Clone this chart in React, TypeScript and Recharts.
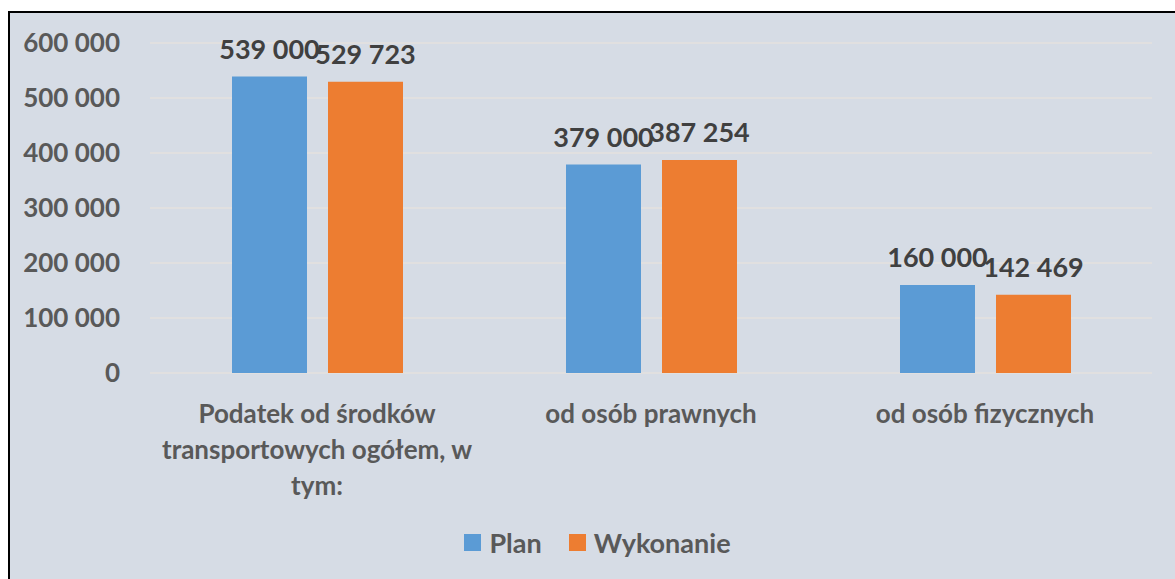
import { BarChart, Bar, XAxis, YAxis, CartesianGrid, Legend, LabelList } from 'recharts';

const categories = [
  'Podatek od środków transportowych ogółem, w tym:',
  'od osób prawnych',
  'od osób fizycznych',
];
const plan = [539000, 379000, 160000];
const wykonanie = [529723, 387254, 142469];
const yTicks = [0, 100000, 200000, 300000, 400000, 500000, 600000];

const seriesNames = ['Plan', 'Wykonanie'];
const colors = ['#5B9BD5', '#ED7D31'];

const data = categories.map((name, i) => ({ name, plan: plan[i], wykonanie: wykonanie[i] }));

const FONT = 'Lato, sans-serif';
const fmt = (v: number) => String(v).replace(/\B(?=(\d{3})+(?!\d))/g, ' ');

// simple word wrap using canvas measurement
function wrap(text: string, maxWidth: number, font: string) {
  const ctx = document.createElement('canvas').getContext('2d');
  if (!ctx) return [text];
  ctx.font = font;
  const lines: string[] = [];
  let cur = '';
  for (const w of text.split(' ')) {
    const test = cur ? cur + ' ' + w : w;
    if (cur && ctx.measureText(test).width > maxWidth) {
      lines.push(cur);
      cur = w;
    } else {
      cur = test;
    }
  }
  if (cur) lines.push(cur);
  return lines;
}

function CategoryTick(props: any) {
  const { x, y, payload } = props;
  const lines = wrap(payload.value, 330, '700 26px Lato');
  return (
    <text x={x} y={y + 48} textAnchor="middle" fill="#595959" style={{ fontFamily: FONT, fontSize: 26, fontWeight: 700 }}>
      {lines.map((l, i) => (
        <tspan key={i} x={x} dy={i === 0 ? 0 : 36}>
          {l}
        </tspan>
      ))}
    </text>
  );
}

function LegendContent() {
  return (
    <div style={{ display: 'flex', justifyContent: 'center', alignItems: 'center', fontFamily: FONT, fontSize: 27, fontWeight: 700, color: '#595959' }}>
      {seriesNames.map((n, i) => (
        <div key={n} style={{ display: 'flex', alignItems: 'center', marginRight: i === 0 ? 27 : 0 }}>
          <span style={{ width: 17, height: 17, background: colors[i], display: 'inline-block', marginRight: 8 }} />
          <span>{n}</span>
        </div>
      ))}
    </div>
  );
}

export default function App() {
  return (
    <div style={{ position: 'fixed', left: 0, top: 0, width: 1175, height: 579, overflow: 'hidden', background: '#fff' }}>
      <div style={{ position: 'absolute', left: 8, top: 11, width: 1190, height: 600, border: '2px solid #000', background: '#D6DCE5' }} />
      <div style={{ position: 'absolute', left: 0, top: 0 }}>
        <BarChart
          width={1175}
          height={579}
          data={data}
          margin={{ top: 43, right: 23, left: 0, bottom: 0 }}
          barSize={75}
          barGap={21}
        >
          <CartesianGrid vertical={false} stroke="#E4E2DE" strokeWidth={1.5} />
          <XAxis
            dataKey="name"
            axisLine={false}
            tickLine={false}
            tickSize={0}
            height={206}
            interval={0}
            tick={<CategoryTick />}
          />
          <YAxis
            width={150}
            domain={[0, 600000]}
            ticks={yTicks}
            axisLine={false}
            tickLine={false}
            tickSize={0}
            tickMargin={30}
            tickFormatter={fmt}
            tick={{ fill: '#595959', fontFamily: FONT, fontSize: 26, fontWeight: 700 }}
          />
          <Legend
            layout="horizontal"
            verticalAlign="middle"
            align="center"
            wrapperStyle={{ top: 526, left: 10, width: 1175 }}
            content={<LegendContent />}
          />
          <Bar dataKey="plan" name="Plan" fill={colors[0]} isAnimationActive={false}>
            <LabelList dataKey="plan" position="top" offset={18} formatter={(v: any) => fmt(v)} fill="#404040" style={{ fontFamily: FONT, fontSize: 27, fontWeight: 700 }} />
          </Bar>
          <Bar dataKey="wykonanie" name="Wykonanie" fill={colors[1]} isAnimationActive={false}>
            <LabelList dataKey="wykonanie" position="top" offset={18} formatter={(v: any) => fmt(v)} fill="#404040" style={{ fontFamily: FONT, fontSize: 27, fontWeight: 700 }} />
          </Bar>
        </BarChart>
      </div>
    </div>
  );
}
